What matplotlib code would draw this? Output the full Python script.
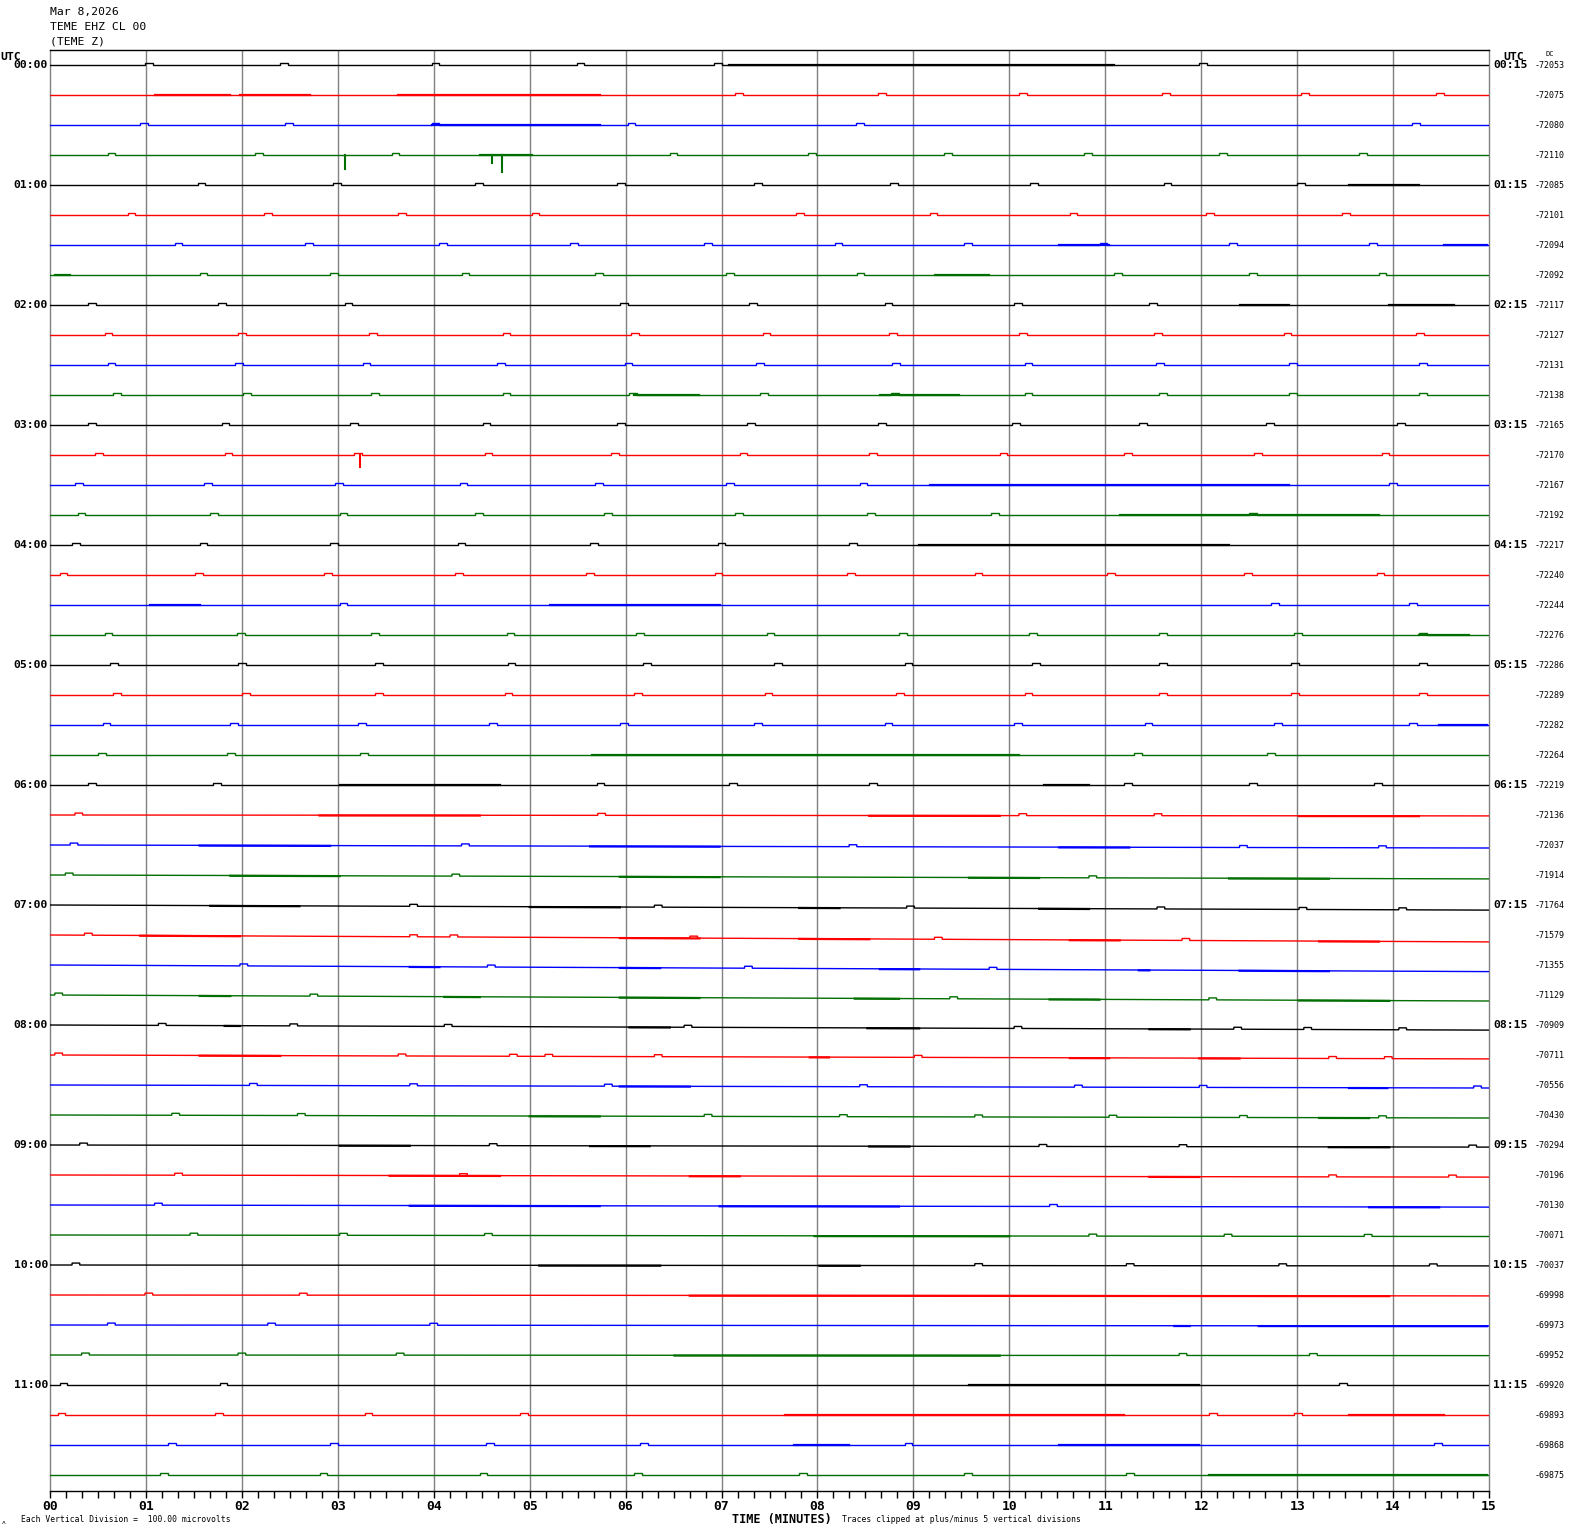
import matplotlib
matplotlib.use("Agg")
import matplotlib.pyplot as plt
import numpy as np

# ---------------- data ----------------
TITLE_LINES = ["Mar 8,2026", "TEME EHZ CL 00", "(TEME Z)"]
N_TRACES = 48
COLORS = ["#000000", "#ff0000", "#0000ff", "#006e00"]
LEFT_LABELS = [f"{h:02d}:00" for h in range(12)]
RIGHT_LABELS = [f"{h:02d}:15" for h in range(12)]
MINUTE_LABELS = [f"{m:02d}" for m in range(16)]

DC_VALUES = [-72053, -72075, -72080, -72110, -72085, -72101, -72094, -72092,
             -72117, -72127, -72131, -72138, -72165, -72170, -72167, -72192,
             -72217, -72240, -72244, -72276, -72286, -72289, -72282, -72264,
             -72219, -72136, -72037, -71914, -71764, -71579, -71355, -71129,
             -70909, -70711, -70556, -70430, -70294, -70196, -70130, -70071,
             -70037, -69998, -69973, -69952, -69920, -69893, -69868, -69875]

# baseline drift over the 15-minute line (in trace spacings, negative = down)
DRIFT = [0, 0, 0, 0, 0, 0, 0, 0, 0, 0, 0, 0, 0, 0, 0, 0,
         0, 0, 0, 0, 0, 0, 0, 0, 0, -0.03, -0.10, -0.13, -0.17, -0.23, -0.22, -0.20,
         -0.17, -0.13, -0.10, -0.10, -0.07, -0.07, -0.07, -0.05, -0.03, -0.03, -0.03, -0.02,
         0, 0, 0, 0]

# small step-like blips (minute of onset) per trace
BLIPS = [
    [0.99, 2.40, 3.98, 5.49, 6.92, 11.98],
    [7.14, 8.63, 10.10, 11.59, 13.04, 14.45],
    [0.94, 2.45, 3.98, 6.02, 8.40, 14.20],
    [0.60, 2.14, 3.56, 6.46, 7.90, 9.32, 10.78, 12.19, 13.65],
    [1.54, 2.95, 4.43, 5.91, 7.34, 8.76, 10.22, 11.61, 13.0],
    [0.81, 2.23, 3.63, 5.02, 7.78, 9.17, 10.63, 12.05, 13.47],
    [1.30, 2.66, 4.06, 5.42, 6.82, 8.18, 9.53, 10.94, 12.29, 13.75],
    [1.56, 2.92, 4.29, 5.68, 7.05, 8.41, 11.09, 12.50, 13.85],
    [0.40, 1.75, 3.07, 5.94, 7.29, 8.70, 10.05, 11.46],
    [0.57, 1.96, 3.33, 4.72, 6.06, 7.43, 8.75, 10.10, 11.51, 12.86, 14.24],
    [0.60, 1.93, 3.26, 4.66, 5.99, 7.36, 8.78, 10.16, 11.53, 12.92, 14.27],
    [0.66, 2.01, 3.35, 4.72, 6.04, 7.40, 8.77, 10.16, 11.56, 12.92, 14.27],
    [0.40, 1.79, 3.13, 4.51, 5.91, 7.27, 8.63, 10.03, 11.35, 12.68, 14.04],
    [0.47, 1.82, 3.17, 4.53, 5.85, 7.19, 8.54, 9.90, 11.20, 12.55, 13.88],
    [0.26, 1.61, 2.97, 4.27, 5.68, 7.05, 8.44, 13.96],
    [0.29, 1.67, 3.02, 4.43, 5.78, 7.14, 8.52, 9.81, 12.50],
    [0.23, 1.56, 2.92, 4.25, 5.63, 6.96, 8.33],
    [0.10, 1.51, 2.86, 4.22, 5.59, 6.93, 8.31, 9.64, 11.02, 12.45, 13.83],
    [3.02, 12.73, 14.17],
    [0.57, 1.95, 3.35, 4.76, 6.11, 7.47, 8.85, 10.21, 11.56, 12.97, 14.27],
    [0.63, 1.96, 3.39, 4.77, 6.18, 7.55, 8.91, 10.24, 11.56, 12.94, 14.27],
    [0.66, 2.00, 3.39, 4.74, 6.09, 7.45, 8.82, 10.16, 11.56, 12.94, 14.27],
    [0.55, 1.88, 3.21, 4.58, 5.94, 7.34, 8.70, 10.05, 11.41, 12.76, 14.17],
    [0.50, 1.85, 3.23, 11.30, 12.69],
    [0.40, 1.70, 5.70, 7.08, 8.54, 11.20, 12.50, 13.80],
    [0.26, 5.71, 10.10, 11.51],
    [0.21, 4.29, 8.33, 12.40, 13.85],
    [0.16, 4.19, 10.83],
    [3.75, 6.30, 8.93, 11.54, 13.02, 14.06],
    [0.36, 3.75, 4.17, 6.67, 9.22, 11.80],
    [1.98, 4.56, 7.24, 9.79],
    [0.05, 2.71, 9.38, 12.08],
    [1.13, 2.50, 4.11, 6.61, 10.05, 12.34, 13.07, 14.06],
    [0.05, 3.63, 4.79, 5.16, 6.30, 9.01, 13.33, 13.91],
    [2.08, 3.75, 5.78, 8.44, 10.68, 11.98, 14.84],
    [1.27, 2.58, 6.82, 8.23, 9.64, 11.04, 12.40, 13.85],
    [0.31, 4.58, 10.31, 11.77, 14.79],
    [1.30, 4.27, 13.33, 14.58],
    [1.09, 10.42],
    [1.46, 3.02, 4.53, 10.83, 12.24, 13.70],
    [0.23, 9.64, 11.22, 12.81, 14.38],
    [0.99, 2.60],
    [0.60, 2.27, 3.96],
    [0.33, 1.96, 3.61, 11.77, 13.13],
    [0.10, 1.77, 13.44],
    [0.08, 1.72, 3.28, 4.90, 12.08, 12.97],
    [1.23, 2.92, 4.55, 6.15, 8.91, 14.43],
    [1.15, 2.81, 4.48, 6.09, 7.81, 9.53, 11.22],
]

# noisy stretches (start minute, end minute) per trace
NOISE = [
    [(7.08, 11.09)],
    [(1.09, 1.88), (1.98, 2.71), (3.63, 5.73)],
    [(3.98, 5.73)],
    [(4.48, 5.02)],
    [(13.54, 14.27)],
    [],
    [(10.52, 11.04), (14.53, 14.98)],
    [(0.05, 0.21), (9.22, 9.79)],
    [(12.40, 12.92), (13.96, 14.64)],
    [],
    [],
    [(6.09, 6.77), (8.65, 9.48)],
    [],
    [],
    [(9.17, 12.92)],
    [(11.15, 13.85)],
    [(9.06, 12.29)],
    [],
    [(1.04, 1.56), (5.21, 6.98)],
    [(14.27, 14.79)],
    [],
    [],
    [(14.48, 14.98)],
    [(5.65, 10.10)],
    [(3.02, 4.69), (10.36, 10.83)],
    [(2.81, 4.48), (8.54, 9.90), (13.02, 14.27)],
    [(1.56, 2.92), (5.63, 6.98), (10.52, 11.25)],
    [(1.88, 3.02), (5.94, 6.98), (9.58, 10.31), (12.29, 13.33)],
    [(1.67, 2.60), (5.00, 5.94), (7.81, 8.23), (10.31, 10.83)],
    [(0.94, 1.98), (5.94, 6.77), (7.81, 8.54), (10.63, 11.15), (13.23, 13.85)],
    [(3.75, 4.06), (5.94, 6.36), (8.65, 9.06), (11.35, 11.46), (12.40, 13.33)],
    [(1.56, 1.88), (4.11, 4.48), (5.94, 6.77), (8.39, 8.85), (10.42, 10.94), (13.02, 13.96)],
    [(1.82, 1.98), (6.04, 6.46), (8.52, 9.06), (11.46, 11.88)],
    [(1.56, 2.40), (7.92, 8.12), (10.63, 11.04), (11.98, 12.40)],
    [(5.94, 6.67), (13.54, 13.94)],
    [(5.00, 5.73), (13.23, 13.75)],
    [(3.02, 3.75), (5.63, 6.25), (8.54, 8.96), (13.33, 13.96)],
    [(3.54, 4.69), (6.67, 7.19), (11.46, 11.98)],
    [(3.75, 5.73), (6.98, 8.85), (13.75, 14.48)],
    [(7.97, 10.00)],
    [(5.10, 6.36), (8.02, 8.44)],
    [(6.67, 13.96)],
    [(11.72, 11.88), (12.60, 14.98)],
    [(6.51, 9.90)],
    [(9.58, 11.98)],
    [(7.66, 11.20), (13.54, 14.53)],
    [(7.76, 8.33), (10.52, 11.98)],
    [(12.08, 14.98)],
]

# downward spikes: trace index, minute, depth (trace spacings)
SPIKE_TRACE = [3, 3, 3, 13]
SPIKE_MIN = [3.07, 4.61, 4.71, 3.23]
SPIKE_DEPTH = [-0.47, -0.27, -0.57, -0.40]

# ---------------- figure ----------------
W, H = 1570, 1534
fig = plt.figure(figsize=(W / 100, H / 100), dpi=100)
fig.patch.set_facecolor("white")
ax = fig.add_axes([50 / W, 43 / H, 1439 / W, 1441 / H])
ax.set_xlim(0, 15)
ax.set_ylim(-47.533, 0.5)

MONO = "DejaVu Sans Mono"

for m in range(1, 15):
    ax.axvline(m, color="#808080", lw=1.0, zorder=1)

BLIP_H = 0.065
BLIP_W = 0.08
for i in range(N_TRACES):
    c = COLORS[i % 4]
    y0 = -i
    d = DRIFT[i]

    def base(t, y0=y0, d=d):
        return y0 + d * t / 15.0

    xs, ys = [0.0], [base(0.0)]
    for b in sorted(BLIPS[i]):
        xs += [b, b, b + BLIP_W, b + BLIP_W]
        ys += [base(b), base(b) + BLIP_H, base(b + BLIP_W) + BLIP_H, base(b + BLIP_W)]
    xs.append(15.0)
    ys.append(base(15.0))
    ax.plot(xs, ys, color=c, lw=1.0, zorder=3, solid_joinstyle="miter")
    for (s, e) in NOISE[i]:
        ax.plot([s, e], [base(s) - 0.01, base(e) - 0.01], color=c, lw=1.6, zorder=3)

for t, m, dep in zip(SPIKE_TRACE, SPIKE_MIN, SPIKE_DEPTH):
    c = COLORS[t % 4]
    yb = -t + DRIFT[t] * m / 15.0
    ax.plot([m, m], [yb, yb + dep], color=c, lw=1.5, zorder=4)

# spines
ax.spines["top"].set_color("black")
ax.spines["bottom"].set_color("black")
ax.spines["left"].set_color("#808080")
ax.spines["right"].set_color("#808080")
for s in ax.spines.values():
    s.set_linewidth(1.0)

ax.set_yticks([])
ax.set_xticks(range(16))
ax.set_xticklabels(MINUTE_LABELS, fontfamily=MONO, fontweight="bold", fontsize=9.4)
ax.set_xticks(np.arange(0, 15.001, 1 / 6), minor=True)
ax.tick_params(axis="x", which="both", direction="out", length=5, width=1.0,
               color="black", pad=1.5)

# hour labels and DC values
for i in range(N_TRACES):
    if i % 4 == 0:
        ax.annotate(LEFT_LABELS[i // 4], xy=(0, -i), xycoords=("axes fraction", "data"),
                    xytext=(-2, 0), textcoords="offset pixels", ha="right", va="center",
                    fontfamily=MONO, fontweight="bold", fontsize=8.2)
        ax.annotate(RIGHT_LABELS[i // 4], xy=(1, -i), xycoords=("axes fraction", "data"),
                    xytext=(4, 0), textcoords="offset pixels", ha="left", va="center",
                    fontfamily=MONO, fontweight="bold", fontsize=8.2)
    ax.annotate(str(DC_VALUES[i]), xy=(1, -i), xycoords=("axes fraction", "data"),
                xytext=(46, 0), textcoords="offset pixels", ha="left", va="center",
                fontfamily=MONO, fontsize=6.0)


def ftext(x, y, s, **kw):
    fig.text(x / W, 1 - y / H, s, fontfamily=MONO, **kw)


for k, line in enumerate(TITLE_LINES):
    ftext(50, 12 + k * 15, line, fontsize=8.2, ha="left", va="center")

ftext(0, 57, "UTC", fontsize=8.2, fontweight="bold", ha="left", va="center")
ftext(1503, 57, "UTC", fontsize=8.2, fontweight="bold", ha="left", va="center")
ftext(1545, 54, "DC", fontsize=5.0, ha="left", va="center")
ftext(782, 1519, "TIME (MINUTES)", fontsize=8.5, fontweight="bold", ha="center", va="center")
ftext(842, 1520, "Traces clipped at plus/minus 5 vertical divisions", fontsize=5.8,
      ha="left", va="center")
ftext(21, 1520, "Each Vertical Division =  100.00 microvolts", fontsize=5.8,
      ha="left", va="center")
ftext(2, 1522, "ʌ", fontsize=4.5, ha="left", va="center")

fig.savefig("out.png", dpi=100, facecolor="white")
